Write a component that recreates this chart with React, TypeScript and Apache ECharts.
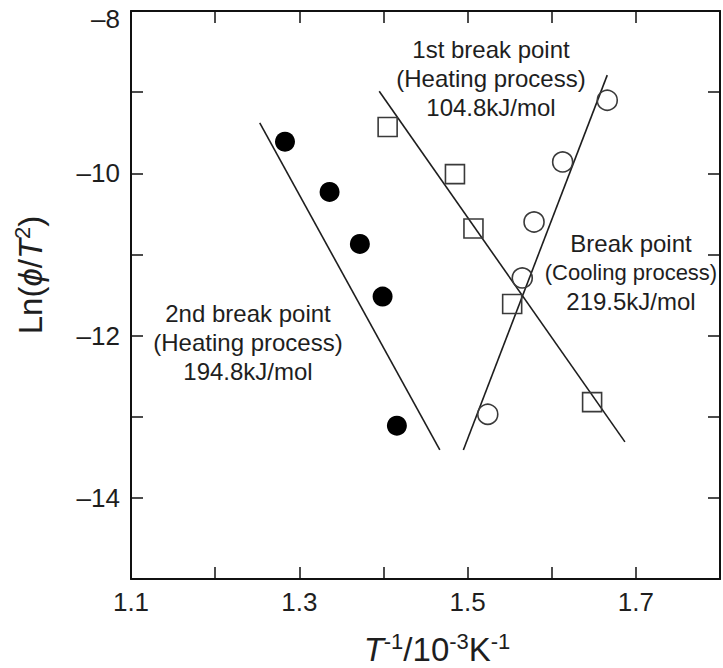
import React, { useEffect, useRef } from "react";
import * as echarts from "echarts";

// Filled circles: 2nd break point (heating process)
const xFilled = [1.283, 1.336, 1.372, 1.399, 1.416];
const yFilled = [-9.61, -10.23, -10.87, -11.52, -13.11];
// Open squares: 1st break point (heating process)
const xSquare = [1.405, 1.485, 1.507, 1.553, 1.648];
const ySquare = [-9.43, -10.01, -10.68, -11.61, -12.82];
// Open circles: break point (cooling process)
const xOpen = [1.524, 1.565, 1.579, 1.613, 1.666];
const yOpen = [-12.97, -11.29, -10.6, -9.86, -9.1];

// Fitted lines (end points)
const fit2ndX = [1.253, 1.467];
const fit2ndY = [-9.38, -13.41];
const fit1stX = [1.395, 1.687];
const fit1stY = [-8.99, -13.31];
const fitCoolX = [1.495, 1.666];
const fitCoolY = [-13.41, -8.79];

const xMin = 1.1;
const xMax = 1.8;
const xStep = 0.1;
const yMin = -15;
const yMax = -8;
const yStep = 1;

const note1st = ["1st break point", "(Heating process)", "104.8kJ/mol"];
const noteCool = ["Break point", "(Cooling process)", "219.5kJ/mol"];
const note2nd = ["2nd break point", "(Heating process)", "194.8kJ/mol"];

const FONT = "'Liberation Sans', Arial, Helvetica, sans-serif";
const INK = "#1e1e1e";

const zip = (xs: number[], ys: number[]) => xs.map((x, i) => [x, ys[i]]);

export default function App() {
  const ref = useRef<HTMLDivElement>(null);
  useEffect(() => {
    document.body.style.margin = "0";
    const chart = echarts.init(ref.current!, null, { renderer: "svg" });
    const axisLineStyle = { color: "#111", width: 2 };
    const tick = { show: true, inside: true, length: 12, lineStyle: { color: "#111", width: 1.5 } };
    const xCommon = {
      type: "value" as const,
      min: xMin,
      max: xMax,
      interval: xStep,
      axisLine: { show: true, onZero: false, lineStyle: axisLineStyle },
      axisTick: tick,
      splitLine: { show: false },
    };
    const yCommon = {
      type: "value" as const,
      min: yMin,
      max: yMax,
      interval: yStep,
      axisLine: { show: true, onZero: false, lineStyle: axisLineStyle },
      axisTick: tick,
      splitLine: { show: false },
    };
    const noteStyle = {
      fontFamily: FONT,
      fontSize: 24,
      lineHeight: 29,
      fill: INK,
      align: "center",
      verticalAlign: "middle",
    };
    const nameRich = {
      i: { fontFamily: FONT, fontSize: 33, fontStyle: "italic", fill: INK, lineHeight: 38 },
      n: { fontFamily: FONT, fontSize: 33, fill: INK, lineHeight: 38 },
      sup: { fontFamily: FONT, fontSize: 22, fill: INK, verticalAlign: "top", lineHeight: 38 },
    };
    chart.setOption({
      animation: false,
      backgroundColor: "#fff",
      grid: { left: 131, top: 11, width: 590, height: 568 },
      xAxis: [
        {
          ...xCommon,
          position: "bottom",
          axisLabel: {
            show: true,
            margin: 10,
            fontFamily: FONT,
            fontSize: 26,
            color: INK,
            formatter: (v: number) => {
              const r = Math.round(v * 10);
              return r % 2 === 1 ? (r / 10).toFixed(1) : "";
            },
          },
        },
        { ...xCommon, position: "top", axisLabel: { show: false } },
      ],
      yAxis: [
        {
          ...yCommon,
          position: "left",
          axisLabel: {
            show: true,
            margin: 11,
            fontFamily: FONT,
            fontSize: 26,
            color: INK,
            formatter: (v: number) => {
              const r = Math.round(v);
              if (r % 2 !== 0) return "";
              const s = "\u2013" + Math.abs(r);
              return r === yMax ? "{top|" + s + "}" : s;
            },
            rich: {
              top: { fontFamily: FONT, fontSize: 26, color: INK, padding: [16, 0, 0, 0] },
            },
          },
        },
        { ...yCommon, position: "right", axisLabel: { show: false } },
      ],
      series: [
        {
          type: "line",
          data: zip(fit2ndX, fit2ndY),
          symbol: "none",
          lineStyle: { color: INK, width: 1.6 },
          z: 2,
        },
        {
          type: "line",
          data: zip(fit1stX, fit1stY),
          symbol: "none",
          lineStyle: { color: INK, width: 1.6 },
          z: 2,
        },
        {
          type: "line",
          data: zip(fitCoolX, fitCoolY),
          symbol: "none",
          lineStyle: { color: INK, width: 1.6 },
          z: 2,
        },
        {
          type: "scatter",
          data: zip(xFilled, yFilled),
          symbol: "circle",
          symbolSize: 20,
          itemStyle: { color: "#000", opacity: 1 },
          z: 3,
        },
        {
          type: "scatter",
          data: zip(xSquare, ySquare),
          symbol: "rect",
          symbolSize: 19,
          itemStyle: { color: "rgba(255,255,255,0)", borderColor: "#3a3a3a", borderWidth: 1.6, opacity: 1 },
          z: 3,
        },
        {
          type: "scatter",
          data: zip(xOpen, yOpen),
          symbol: "circle",
          symbolSize: 20,
          itemStyle: { color: "rgba(255,255,255,0)", borderColor: "#3a3a3a", borderWidth: 1.6, opacity: 1 },
          z: 3,
        },
      ],
      graphic: [
        { type: "text", x: 491, y: 78, style: { ...noteStyle, text: note1st.join("\n") } },
        {
          type: "text",
          x: 631,
          y: 272,
          style: {
            ...noteStyle,
            text: noteCool[0] + "\n{s|" + noteCool[1] + "}\n" + noteCool[2],
            rich: { s: { fontFamily: FONT, fontSize: 22, fill: INK, lineHeight: 29 } },
          },
        },
        { type: "text", x: 248, y: 342, style: { ...noteStyle, text: note2nd.join("\n") } },
        {
          type: "text",
          x: 30,
          y: 275,
          rotation: Math.PI / 2,
          style: {
            text: "{n|Ln(}{i|\u03D5}{n|/}{i|T}{sup|2}{n|)}",
            fontFamily: FONT,
            fontSize: 33,
            fill: INK,
            align: "center",
            verticalAlign: "middle",
            rich: nameRich,
          },
        },
        {
          type: "text",
          x: 437,
          y: 649,
          style: {
            text: "{i|T}{sup|-1}{n|/10}{sup|-3}{n|K}{sup|-1}",
            fontFamily: FONT,
            fontSize: 33,
            fill: INK,
            align: "center",
            verticalAlign: "middle",
            rich: nameRich,
          },
        },
      ],
    });
    return () => chart.dispose();
  }, []);
  return <div ref={ref} style={{ width: 723, height: 668 }} />;
}
